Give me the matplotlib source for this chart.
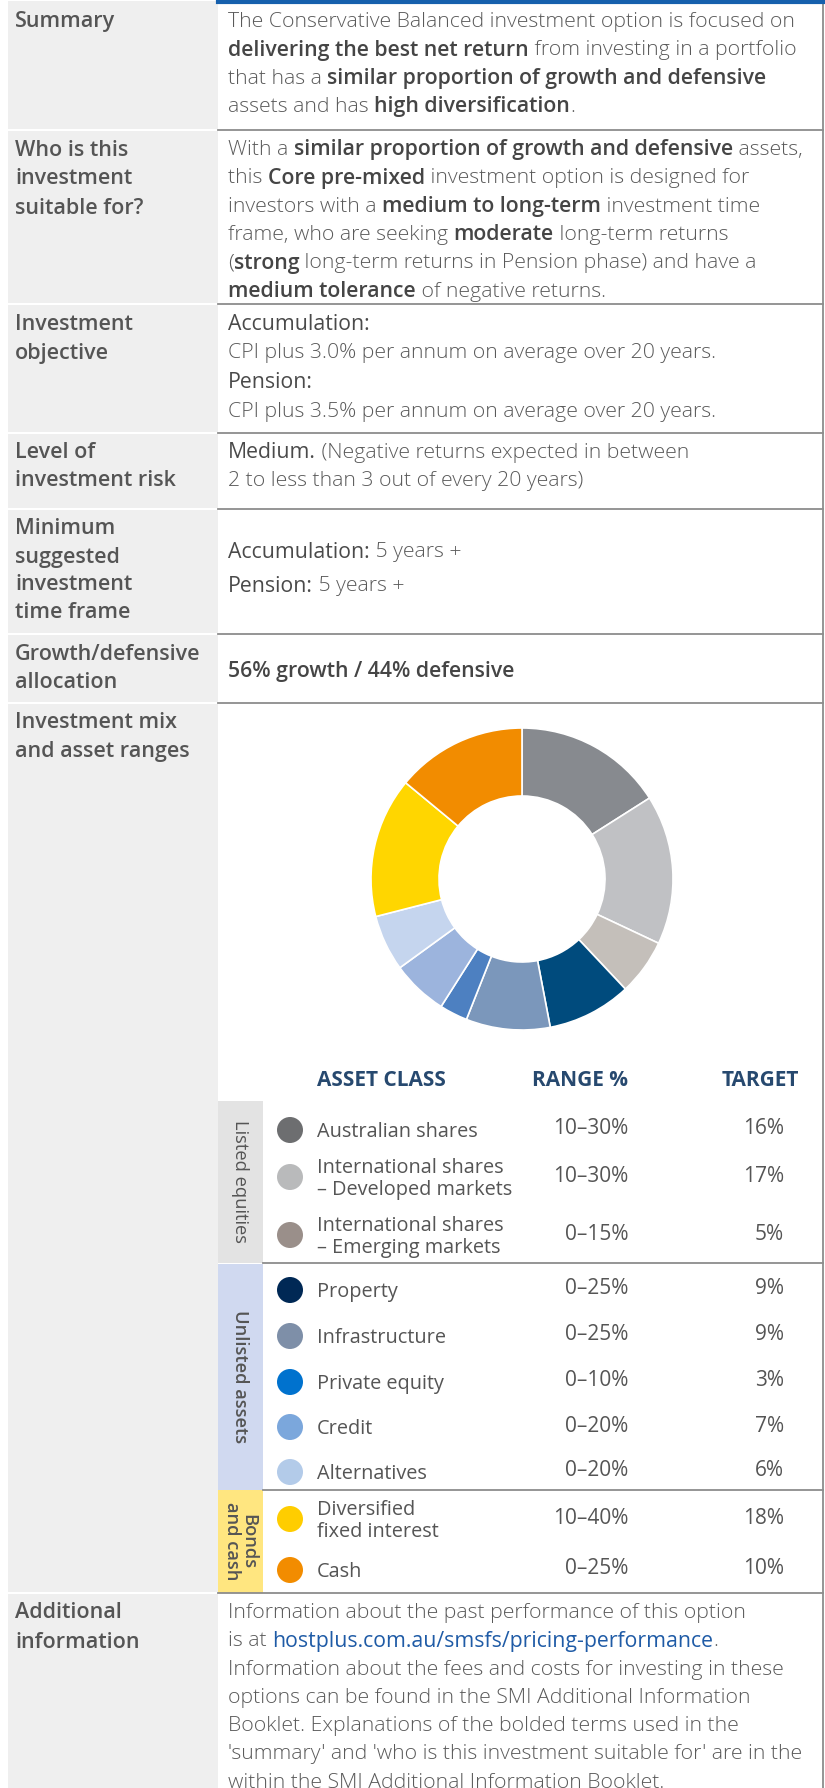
import matplotlib
matplotlib.use('Agg')
import matplotlib.pyplot as plt
from matplotlib.patches import Rectangle, Circle

# ---------------- data ----------------
asset_classes = ['Australian shares', 'International shares\n– Developed markets',
                 'International shares\n– Emerging markets', 'Property', 'Infrastructure',
                 'Private equity', 'Credit', 'Alternatives', 'Diversified\nfixed interest', 'Cash']
ranges = ['10–30%', '10–30%', '0–15%', '0–25%', '0–25%', '0–10%', '0–20%', '0–20%', '10–40%', '0–25%']
targets = [16, 17, 5, 9, 9, 3, 7, 6, 18, 10]
# shares as drawn in the donut graphic
donut_shares = [16, 16, 6, 9, 9, 3, 6, 6, 15, 14]
groups = ['Listed equities', 'Unlisted assets', 'Bonds\nand cash']
group_sizes = [3, 5, 2]
donut_colors = ['#878a8f', '#c0c1c4', '#c4bfba', '#004b7d', '#7b97bb', '#4d80c1',
                '#9cb4dd', '#c5d5ee', '#ffd600', '#f28c00']
dot_colors = ['#6d6e70', '#b9babb', '#9a8f8a', '#002855', '#7e8fa8', '#0072ce',
              '#7ba7dc', '#b3cbe9', '#ffcd00', '#f28c00']
group_colors = ['#e3e3e3', '#d0d9f0', '#ffe680']
growth_text = '56% growth / 44% defensive'

# ---------------- layout ----------------
W, H = 825, 1788
fig = plt.figure(figsize=(W / 100, H / 100), dpi=100)
ax = fig.add_axes([0, 0, 1, 1])
ax.set_xlim(0, W)
ax.set_ylim(H, 0)
ax.axis('off')
renderer = fig.canvas.get_renderer()

FONT = ['Open Sans', 'DejaVu Sans']
FS = 15.3
N = dict(family=FONT, fontsize=FS, fontweight=300, color='#5a5a5a')
R = dict(family=FONT, fontsize=FS, fontweight='normal', color='#4a4a4a')
B = dict(family=FONT, fontsize=FS, fontweight='semibold', color='#454545')
L = dict(family=FONT, fontsize=FS, fontweight='normal', color='#1f5ba6')
LAB = dict(family=FONT, fontsize=15.5, fontweight='semibold', color='#555555')

def seg_width(txt, kw):
    t1 = ax.text(0, 0, '|' + txt + '|', **kw)
    w1 = t1.get_window_extent(renderer).width
    t1.remove()
    t2 = ax.text(0, 0, '||', **kw)
    w2 = t2.get_window_extent(renderer).width
    t2.remove()
    return w1 - w2

def rich_line(x, y, segs):
    for txt, kw in segs:
        ax.text(x, y, txt, ha='left', va='center', **kw)
        x += seg_width(txt, kw)

XL, XC = 15, 228
rows = [(0, 130), (130, 304), (304, 433), (433, 509), (509, 634), (634, 703),
        (703, 1593), (1593, 1800)]

for top, bot in rows:
    ax.add_patch(Rectangle((8, top + 1), 210, bot - top - 2, color='#efefef', lw=0, zorder=0))

for top, bot in rows[1:]:
    ax.plot([218, 823], [top, top], color='#8c8c8c', lw=1.3, zorder=3)
ax.plot([823, 823], [0, H], color='#8c8c8c', lw=1.3, zorder=3)
ax.plot([218, 823], [1.5, 1.5], color='#1660ad', lw=3, zorder=4)

labels = [
    (['Summary'], [22]),
    (['Who is this', 'investment', 'suitable for?'], [150, 179, 208]),
    (['Investment', 'objective'], [325, 353]),
    (['Level of', 'investment risk'], [453, 481]),
    (['Minimum', 'suggested', 'investment', 'time frame'], [528, 557, 585, 613]),
    (['Growth/defensive', 'allocation'], [655, 683]),
    (['Investment mix', 'and asset ranges'], [723, 751]),
    (['Additional', 'information'], [1613, 1642]),
]
for lines, ys in labels:
    for t, y in zip(lines, ys):
        ax.text(XL, y, t, ha='left', va='center', **LAB)

summary = [
    [('The Conservative Balanced investment option is focused on', N)],
    [('delivering the best net return', B), (' from investing in a portfolio', N)],
    [('that has a ', N), ('similar proportion of growth and defensive', B)],
    [('assets and has ', N), ('high diversification', B), ('.', N)],
]
for i, segs in enumerate(summary):
    rich_line(XC, 22 + 28.3 * i, segs)

who = [
    [('With a ', N), ('similar proportion of growth and defensive', B), (' assets,', N)],
    [('this ', N), ('Core pre-mixed', B), (' investment option is designed for', N)],
    [('investors with a ', N), ('medium to long-term', B), (' investment time', N)],
    [('frame, who are seeking ', N), ('moderate', B), (' long-term returns', N)],
    [('(', N), ('strong', B), (' long-term returns in Pension phase) and have a', N)],
    [('medium tolerance', B), (' of negative returns.', N)],
]
for i, segs in enumerate(who):
    rich_line(XC, 150 + 28.3 * i, segs)

objective = [
    [('Accumulation:', R)],
    [('CPI plus 3.0% per annum on average over 20 years.', N)],
    [('Pension:', R)],
    [('CPI plus 3.5% per annum on average over 20 years.', N)],
]
for segs, y in zip(objective, [325, 353, 383, 412]):
    rich_line(XC, y, segs)

rich_line(XC, 453, [('Medium.', R), (' (Negative returns expected in between', N)])
rich_line(XC, 481, [('2 to less than 3 out of every 20 years)', N)])
rich_line(XC, 552, [('Accumulation:', R), (' 5 years +', N)])
rich_line(XC, 586, [('Pension:', R), (' 5 years +', N)])
rich_line(XC, 671, [(growth_text, B)])

additional = [
    [('Information about the past performance of this option', N)],
    [('is at ', N), ('hostplus.com.au/smsfs/pricing-performance', L), ('.', N)],
    [('Information about the fees and costs for investing in these', N)],
    [('options can be found in the SMI Additional Information', N)],
    [('Booklet. Explanations of the bolded terms used in the', N)],
    [("'summary' and 'who is this investment suitable for' are in the", N)],
    [('within the SMI Additional Information Booklet.', N)],
]
for i, segs in enumerate(additional):
    rich_line(XC, 1613 + 28.3 * i, segs)

# ---------------- donut ----------------
cx, cy, r = 522, 879, 151
pax = fig.add_axes([(cx - r) / W, 1 - (cy + r) / H, 2 * r / W, 2 * r / H])
pax.pie(donut_shares, colors=donut_colors, startangle=90, counterclock=False,
        radius=1, wedgeprops=dict(width=68 / 151, edgecolor='white', linewidth=1.2))
pax.set_xlim(-1.0, 1.0)
pax.set_ylim(-1.0, 1.0)
pax.set_aspect('equal')
pax.axis('off')

# ---------------- table ----------------
HDR = dict(family=FONT, fontsize=15, fontweight='bold', color='#27496f')
ax.text(317, 1080, 'ASSET CLASS', ha='left', va='center', **HDR)
ax.text(628, 1080, 'RANGE %', ha='right', va='center', **HDR)
ax.text(799, 1080, 'TARGET', ha='right', va='center', **HDR)

group_spans = [(1101, 1263), (1264, 1490), (1490, 1593)]
row_y = [1130, 1177, 1235, 1290, 1336, 1382, 1427, 1472, 1519, 1570]
SIDE = dict(family=FONT, fontsize=13.2, color='#555555')
for (top, bot), g, c, wt in zip(group_spans, groups, group_colors, ['normal', 'semibold', 'semibold']):
    ax.add_patch(Rectangle((218, top), 45, bot - top, color=c, lw=0, zorder=1))
    ax.text(240, (top + bot) / 2, g, rotation=-90, ha='center', va='center',
            linespacing=0.9, fontweight=wt, **SIDE)
for top in [1263, 1490]:
    ax.plot([263, 823], [top, top], color='#8c8c8c', lw=1.3, zorder=3)

TXT = dict(family=FONT, fontsize=14.3, fontweight='normal', color='#555555')
NUM = dict(family=FONT, fontsize=15, fontweight='normal', color='#555555')
for name, rg, tg, col, y in zip(asset_classes, ranges, targets, dot_colors, row_y):
    ax.add_patch(Circle((290, y), 13, color=col, lw=0, zorder=2))
    ax.text(317, y + 2, name, ha='left', va='center', linespacing=1.15, **TXT)
    ax.text(628, y - 1, rg, ha='right', va='center', **NUM)
    ax.text(784, y - 1, f'{tg}%', ha='right', va='center', **NUM)

fig.savefig('out.png', dpi=100)
